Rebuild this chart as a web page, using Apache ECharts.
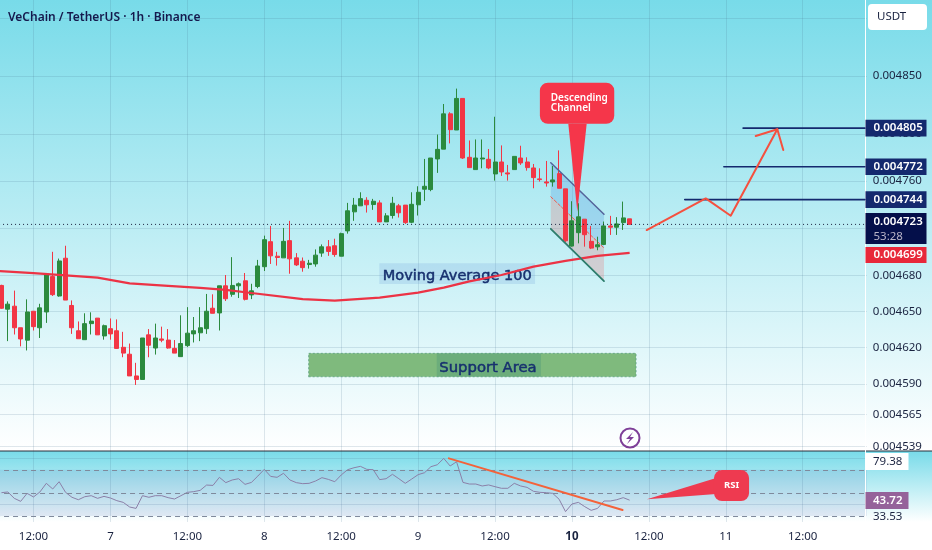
<!DOCTYPE html>
<html><head><meta charset="utf-8">
<style>html,body{margin:0;padding:0;background:#fff}#c{width:932px;height:550px}</style>
<script src="https://cdn.jsdelivr.net/npm/echarts@6/dist/echarts.min.js"></script>
</head><body><div id="c"></div>
<script>
// prices are in millionths of a USDT
const title = 'VeChain / TetherUS · 1h · Binance';
const xLabels = ['12:00','7','12:00','8','12:00','9','12:00','10','12:00','11','12:00'];
const yTicks = [4900,4850,4800,4760,4720,4680,4650,4620,4590,4565,4539];
const rsiTicks = [40,80];
const rsiLevels = [70,50,30];
const open = [4671.7,4651.9,4654.4,4636.5,4626.2,4650.2,4636.5,4649.6,4679.1,4662.9,4694.5,4655.0,4634.0,4626.6,4639.9,4644.5,4629.7,4635.7,4634.0,4620.3,4614.6,4596.7,4593.8,4630.6,4619.7,4627.2,4626.3,4619.4,4612.6,4621.7,4631.4,4632.3,4635.7,4652.7,4648.8,4671.4,4664.3,4671.4,4675.6,4663.8,4670.8,4687.4,4708.4,4696.2,4694.8,4709.3,4694.8,4692.0,4689.2,4689.7,4698.8,4704.1,4705.0,4696.2,4717.5,4733.6,4738.7,4743.4,4739.8,4741.2,4725.1,4730.5,4738.7,4739.3,4724.8,4739.6,4752.8,4752.5,4778.6,4787.0,4817.3,4803.4,4830.6,4780.0,4769.5,4778.6,4778.3,4765.8,4776.0,4766.7,4769.5,4779.4,4776.0,4770.9,4761.6,4759.0,4759.0,4766.1,4753.1,4704.7,4716.0,4727.4,4708.7,4704.1,4706.1,4721.7,4720.6,4724.5,4727.7];
const close = [4652.7,4656.1,4636.5,4627.2,4649.6,4637.4,4653.0,4680.6,4664.0,4692.2,4659.5,4636.5,4627.4,4639.9,4642.0,4630.6,4638.2,4631.4,4619.4,4615.5,4596.7,4593.8,4628.0,4622.0,4628.0,4626.2,4619.7,4615.5,4623.4,4632.0,4634.0,4636.5,4650.2,4648.5,4671.4,4660.6,4671.7,4673.1,4660.1,4667.2,4688.0,4710.1,4696.5,4695.1,4708.7,4694.0,4688.9,4686.6,4690.3,4697.1,4704.1,4700.2,4697.6,4715.2,4734.5,4739.3,4744.8,4739.6,4742.6,4725.1,4730.2,4740.9,4732.8,4724.5,4740.0,4750.2,4755.3,4779.4,4786.8,4817.3,4803.7,4830.6,4779.4,4771.2,4779.4,4779.4,4770.9,4776.0,4767.5,4765.8,4780.8,4775.2,4771.2,4762.7,4761.0,4758.1,4760.7,4753.6,4709.2,4726.0,4729.4,4714.3,4703.0,4705.8,4721.7,4720.6,4723.4,4728.5,4723.0];
const low = [4652.2,4625.4,4630.9,4621.1,4617.7,4634.2,4628.0,4640.5,4662.9,4662.3,4659.5,4631.4,4627.4,4626.6,4630.9,4630.6,4626.6,4626.6,4618.9,4612.1,4596.7,4589.3,4593.8,4612.1,4614.3,4624.5,4619.2,4615.5,4612.6,4620.6,4624.3,4625.4,4631.4,4648.5,4634.2,4658.7,4662.3,4661.2,4659.2,4660.3,4669.4,4683.8,4689.7,4688.3,4694.8,4681.5,4688.0,4683.2,4685.8,4687.4,4695.7,4696.5,4695.7,4696.2,4715.2,4726.0,4738.7,4733.0,4735.3,4725.1,4725.1,4727.9,4728.8,4723.4,4724.0,4730.5,4742.9,4751.1,4766.7,4787.0,4791.9,4803.4,4778.6,4771.2,4769.5,4770.6,4769.8,4760.1,4764.1,4760.1,4769.5,4773.5,4768.6,4753.6,4759.3,4755.0,4755.0,4753.6,4708.2,4704.2,4707.0,4704.2,4702.2,4701.2,4705.6,4714.1,4714.1,4718.3,4723.0];
const high = [4672.3,4658.4,4667.4,4636.5,4660.1,4650.2,4656.4,4680.6,4699.9,4694.2,4705.0,4659.2,4641.7,4648.5,4649.3,4644.5,4639.1,4644.2,4643.4,4633.1,4623.4,4607.5,4628.0,4635.4,4639.9,4637.4,4635.4,4626.3,4646.8,4653.6,4645.4,4653.6,4664.6,4664.3,4671.4,4680.4,4695.4,4674.2,4682.1,4673.1,4693.1,4713.5,4721.7,4699.9,4720.0,4726.0,4698.8,4695.1,4693.1,4701.9,4706.1,4709.8,4710.9,4716.0,4741.2,4745.4,4750.2,4746.0,4744.6,4743.4,4732.5,4746.3,4740.3,4739.3,4750.2,4755.3,4778.6,4779.4,4799.5,4825.8,4818.7,4839.1,4830.6,4794.4,4795.3,4795.3,4787.1,4814.8,4790.2,4773.5,4780.8,4789.9,4780.0,4774.3,4770.6,4776.9,4772.6,4785.9,4753.1,4742.6,4740.9,4727.4,4721.7,4712.6,4725.4,4730.2,4729.1,4742.3,4727.7];
const maHours = [-0.3,5,10,15,20,26,31,35,39,47,52,59,65,69,73,78,83,88,93,98];
const maValues = [4683.7,4682,4680.1,4678.2,4673.5,4671.4,4669.7,4668,4665.4,4660.3,4659,4661.5,4665.7,4669.9,4675.1,4680.4,4687.4,4692.3,4696.5,4699];
const rsi = [50.2,50.8,45.3,42.7,49.6,46.5,50.8,58.3,53.4,59.7,50.5,46.2,44.1,46.7,47.6,45.3,47,45.6,43.3,41.8,37.8,36.6,47.6,46.2,47.6,47.6,45.9,44.7,47.6,50.5,51.1,52.2,56.8,56.5,63.5,58.9,61.2,62.3,57.4,59.1,64.6,70.4,64.3,63.5,67,61.2,58.9,58,58.3,60.3,63.2,61.7,59.7,65.5,70.1,71.8,73,70.4,70.1,61.5,62.3,66.1,62.3,58.3,62,65.8,67.5,72.7,74.4,79.9,73.3,77,59.1,57.7,57.7,56,56.9,55.4,54,54,58.3,56,54.8,51.4,50.5,50.2,49.6,44.5,33.8,40.4,41.8,38.1,34.9,36.6,43,43,44.1,45.9,43.72];
const lastPrice = 4723, maLast = 4699;
const targets = [[115.7,4805],[112.7,4772],[106.6,4744]];
const countdown = '53:28';
const rsiTags = {max:'79.38', last:'43.72', min:'33.53'};
const arrowPath = [[100.66,4718.2],[109.87,4745.0],[113.77,4730.3],[121.04,4804]];
const arrowHead = [[117.67,4798.3],[121.04,4804],[121.97,4786.2]];
const channelTop = [[85.7,4775.4],[94,4731.5]];
const channelMid = [[85.7,4746.4],[94,4703.1]];
const channelBot = [[85.7,4719.3],[94,4675.4]];
const rsiTrend = [[69.8,79.9],[96.9,35.2]];

const hMin=-1, hMax=135, startLabelHour=5, labelStep=12;
const cats = new Array(hMax-hMin+1).fill('');
xLabels.forEach((t,i)=>{cats[startLabelHour+i*labelStep-hMin]=t;});
const isLabel=(i,v)=>v!=='';
const candle=[[NaN,NaN,NaN,NaN]].concat(open.map((o,i)=>[o,close[i],low[i],high[i]]));
const UP='#2b8a3e', DN='#f23645', NAVY='#14296e', FONT='"Noto Sans",sans-serif', TXT='#1a2340';

const pts=(api,a)=>a.map(p=>api.coord(p));
const poly=(api,a,fill)=>({type:'polygon',shape:{points:pts(api,a)},style:{fill:fill}});
const line=(api,a,color,w,dash)=>({type:'polyline',shape:{points:pts(api,a)},style:{stroke:color,lineWidth:w,fill:null,lineDash:dash||null,lineCap:'round',lineJoin:'round'}});
function box(api,h0,h1,v0,v1,fill,r,extra){
  const a=api.coord([h0,v0]),b=api.coord([h1,v1]);
  return {type:'rect',shape:{x:a[0],y:a[1],width:b[0]-a[0],height:b[1]-a[1],r:r||0},style:Object.assign({fill:fill},extra||{})};
}
function txt(api,h,v,text,font,fill,align,stroke){
  const a=api.coord([h,v]);
  const s={text:text,x:a[0],y:a[1],font:font,fill:fill,textAlign:align||'center',textVerticalAlign:'middle'};
  if(stroke){s.stroke=fill;s.lineWidth=stroke;}
  return {type:'text',style:s};
}
function drawSeries(xi,yi,z,fn){
  return {type:'custom',xAxisIndex:xi,yAxisIndex:yi,z:z,silent:true,clip:false,data:[[0,0]],
    renderItem:(p,api)=>({type:'group',children:fn(api)})};
}
function tag(api,v,h,fill,lines){
  const y=api.coord([0,v])[1], x=865.5, w=61;
  const out=[{type:'rect',shape:{x:x,y:y-h/2,width:w,height:h},style:{fill:fill}}];
  lines.forEach(l=>out.push({type:'text',style:{text:l.t,x:x+8,y:y+(l.dy||0),font:(l.w||'600')+' 11.5px '+FONT,fill:l.c||'#fff',textAlign:'left',textVerticalAlign:'middle'}}));
  return out;
}
const chart=echarts.init(document.getElementById('c'),null,{renderer:'canvas'});
const gridCol='rgba(70,115,140,0.17)';
const splitCat={show:true,interval:isLabel,lineStyle:{color:gridCol,width:1}};
chart.setOption({
 animation:false,
 backgroundColor:'#fff',
 textStyle:{fontFamily:FONT},
 title:{text:title,left:3,top:7,textStyle:{fontSize:12,fontWeight:600,color:'#15194d',fontFamily:FONT}},
 graphic:[
  {type:'rect',z:-5,shape:{x:0,y:0,width:932,height:451},style:{fill:new echarts.graphic.LinearGradient(0,0,0,1,[{offset:0,color:'#78dbe9'},{offset:1,color:'#ffffff'}])}},
  {type:'rect',z:-5,shape:{x:0,y:451,width:932,height:71},style:{fill:new echarts.graphic.LinearGradient(0,0,0,1,[{offset:0,color:'#78dbe9'},{offset:1,color:'#ffffff'}])}},
  {type:'line',z:4,shape:{x1:0,y1:451,x2:932,y2:451},style:{stroke:'#2b2f3a',lineWidth:1}},
  {type:'line',z:4,shape:{x1:865.5,y1:0,x2:865.5,y2:522},style:{stroke:'#ffffff',lineWidth:1}},
  {type:'rect',z:6,shape:{x:868,y:4,width:59,height:26,r:4},style:{fill:'#fff'}},
  {type:'text',z:7,style:{text:'USDT',x:877,y:17,font:'11.5px '+FONT,fill:TXT,textVerticalAlign:'middle'}},
  {type:'group',z:6,children:[
    {type:'circle',z:6,shape:{cx:630,cy:438,r:9.5},style:{fill:'rgba(255,255,255,0.6)',stroke:'#7e3f98',lineWidth:2}},
    {type:'polygon',z:6,shape:{points:[[633,432],[626,439],[630,439],[627,444],[634,437],[630,437]]},style:{fill:'#7e3f98'}}
  ]}
 ],
 grid:[
  {left:-4.96,width:871.76,top:0,height:451,outerBoundsMode:'none'},
  {left:-4.96,width:871.76,top:451,height:71,outerBoundsMode:'none'}
 ],
 xAxis:[
  {type:'category',gridIndex:0,data:cats,boundaryGap:false,axisLine:{show:false},axisTick:{show:false},axisLabel:{show:false},splitLine:splitCat},
  {type:'category',gridIndex:1,data:cats,boundaryGap:false,axisLine:{show:false},axisTick:{show:false},splitLine:splitCat,
   axisLabel:{show:true,interval:isLabel,margin:9,fontSize:11.5,color:TXT,fontFamily:FONT,
     formatter:v=>v==='10'?'{b|10}':v,rich:{b:{fontWeight:'bold',fontSize:11.5,color:TXT,fontFamily:FONT}}}},
  {type:'value',gridIndex:0,min:hMin,max:hMax,show:false,splitLine:{show:false}},
  {type:'value',gridIndex:1,min:hMin,max:hMax,show:false,splitLine:{show:false}}
 ],
 yAxis:[
  {type:'log',logBase:10,gridIndex:0,position:'right',min:4535.4,max:4916.4,
   axisLine:{show:false},axisTick:{show:false,customValues:yTicks},
   axisLabel:{customValues:yTicks,inside:false,margin:6,fontSize:11.5,color:TXT,fontFamily:FONT,formatter:v=>(v/1e6).toFixed(6)},
   splitLine:{show:true,lineStyle:{color:gridCol,width:1}}},
  {type:'value',gridIndex:1,position:'right',min:24.8,max:86.3,
   axisLine:{show:false},axisTick:{show:false,customValues:rsiTicks},axisLabel:{show:false,customValues:rsiTicks},
   splitLine:{show:true,lineStyle:{color:gridCol,width:1}}}
 ],
 series:[
  drawSeries(2,0,1,api=>[
    poly(api,[channelTop[0],channelTop[1],channelMid[1],channelMid[0]],'rgba(90,160,225,0.3)'),
    poly(api,[channelMid[0],channelMid[1],channelBot[1],channelBot[0]],'rgba(230,130,130,0.3)'),
    line(api,channelMid,'#f0584a',1,[3,2]),
    box(api,47.93,99.0,4596,4615.3,'#7fba7d',0,{stroke:'#5ba080',lineWidth:0.8,lineDash:[2,2]}),
    box(api,67.9,84.17,4596,4615.3,'rgba(60,140,120,0.28)'),
    txt(api,75.9,4603.5,'Support Area','14.8px "DejaVu Sans"','#17306e','center',0.5),
    box(api,58.95,83.25,4672.9,4690.2,'rgba(110,160,220,0.22)'),
    txt(api,71.1,4679.8,'Moving Average 100','14.5px "DejaVu Sans"','#17306e','center',0.5)
  ]),
  {type:'candlestick',name:'Price',xAxisIndex:0,yAxisIndex:0,z:2,data:candle,barWidth:4.5,clip:false,
   itemStyle:{color:UP,color0:DN,borderColor:UP,borderColor0:DN,borderWidth:1}},
  {type:'line',name:'MA 100',xAxisIndex:2,yAxisIndex:0,z:3,data:maHours.map((h,i)=>[h,maValues[i]]),showSymbol:false,smooth:false,
   lineStyle:{color:'#ec3345',width:2.2}},
  {type:'line',name:'Last',xAxisIndex:2,yAxisIndex:0,z:3,data:[[hMin,lastPrice],[hMax,lastPrice]],showSymbol:false,
   lineStyle:{color:'#1a2340',width:1,type:[1,3]}},
  {type:'line',name:'RSI',xAxisIndex:3,yAxisIndex:1,z:3,data:rsi.map((v,i)=>[i,v]),showSymbol:false,
   lineStyle:{color:'#8b80a8',width:1},
   markArea:{silent:true,itemStyle:{color:'rgba(70,90,170,0.12)'},data:[[{yAxis:rsiLevels[2]},{yAxis:rsiLevels[0]}]]},
   markLine:{silent:true,symbol:'none',label:{show:false},lineStyle:{color:'#7f8a9c',type:[5,4],width:1},data:rsiLevels.map(v=>({yAxis:v}))}},
  drawSeries(2,0,5,api=>[
    line(api,channelTop,'#55649a',1.5),
    line(api,channelBot,'#2c7d6c',1.8),
    ...targets.map(t=>line(api,[[t[0],t[1]],[134.7,t[1]]],NAVY,1.6)),
    line(api,arrowPath,'#f5503f',2),
    line(api,arrowHead,'#f5503f',2),
    poly(api,[[88.43,4808.8],[91.3,4808.8],[89.84,4733.7]],'#f5364a'),
    box(api,84.0,95.6,4808.8,4844.2,'#f5364a',8),
    txt(api,85.7,4831,'Descending','600 10px '+FONT,'#fff','left'),
    txt(api,85.7,4822.5,'Channel','600 10px '+FONT,'#fff','left')
  ]),
  drawSeries(3,1,5,api=>[
    line(api,rsiTrend,'#f4623a',2),
    poly(api,[[100.7,44.5],[111.5,62.9],[111.5,49]],'#ee3a50'),
    box(api,111.16,116.63,43,69.8,'#ee3a50',8),
    txt(api,113.9,56.2,'RSI','700 9.5px '+FONT,'#fff'),
    {type:'rect',shape:{x:865.5,y:453,width:43,height:17},style:{fill:'#fff'}},
    {type:'text',style:{text:rsiTags.max,x:873,y:461.5,font:'11.5px '+FONT,fill:TXT,textVerticalAlign:'middle'}},
    {type:'rect',shape:{x:865.5,y:492,width:43,height:17},style:{fill:'#95629a'}},
    {type:'text',style:{text:rsiTags.last,x:873,y:500.5,font:'600 11.5px '+FONT,fill:'#fff',textVerticalAlign:'middle'}},
    {type:'text',style:{text:rsiTags.min,x:873,y:517,font:'11.5px '+FONT,fill:TXT,textVerticalAlign:'middle'}}
  ]),
  drawSeries(2,0,6,api=>[
    ...targets.flatMap(t=>tag(api,t[1],16.6,NAVY,[{t:(t[1]/1e6).toFixed(6)}])),
    ...tag(api,lastPrice-3.5,31,'#040f4a',[{t:(lastPrice/1e6).toFixed(6),dy:-7},{t:countdown,dy:8,c:'#b9b4c8',w:'400'}]),
    ...tag(api,maLast-1.8,16,'#e8283a',[{t:(maLast/1e6).toFixed(6)}])
  ])
 ]
});
</script></body></html>
